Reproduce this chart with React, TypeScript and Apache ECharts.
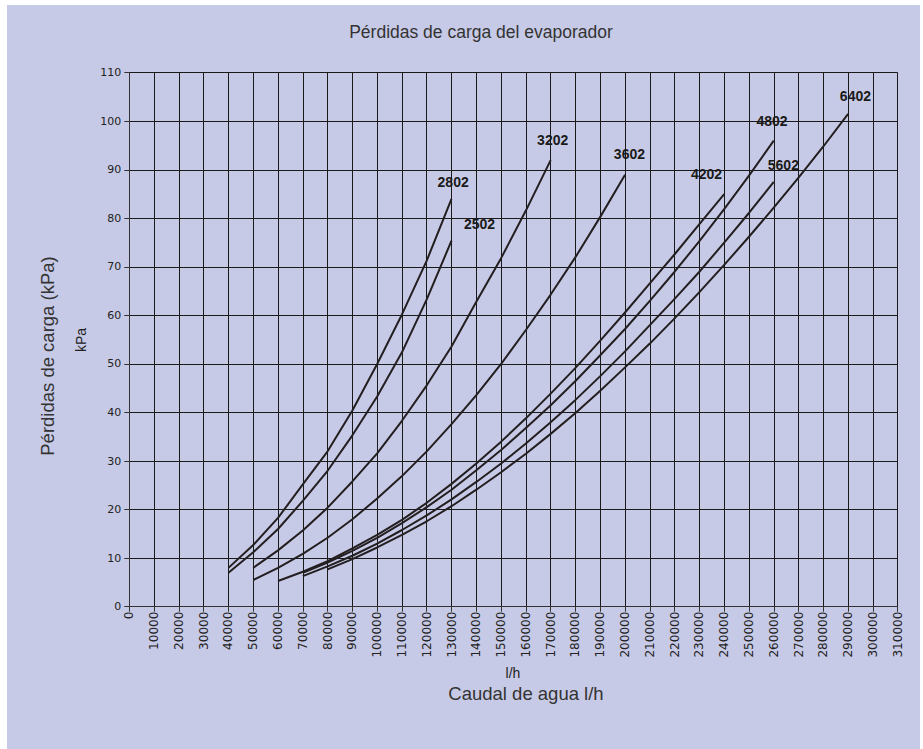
import React, { useEffect, useRef } from "react";
import * as echarts from "echarts";

// Water flow (l/h) at which the curves are sampled
const flows = [
  40000, 50000, 60000, 70000, 80000, 90000, 100000, 110000, 120000, 130000,
  140000, 150000, 160000, 170000, 180000, 190000, 200000, 210000, 220000,
  230000, 240000, 250000, 260000, 270000, 280000, 290000,
];

const models = ["2802", "2502", "3202", "3602", "4202", "4802", "5602", "6402"];
const startFlow = [40000, 40000, 50000, 50000, 60000, 70000, 70000, 80000];

// Pressure drop (kPa)
const dp2802 = [8, 12.7, 18.3, 25.2, 32, 40.4, 50, 60.2, 71.3, 84];
const dp2502 = [7, 11.2, 16, 21.8, 28, 35.3, 43.3, 52.4, 63.3, 75.4];
const dp3202 = [8, 11.6, 15.7, 20.4, 25.8, 31.6, 38.3, 45.6, 53.6, 62.8, 71.8, 81.6, 92];
const dp3602 = [5.5, 8, 10.9, 14.2, 18, 22.3, 26.9, 32, 37.6, 43.6, 50, 57, 64.3, 72, 80.3, 89];
const dp4202 = [5.3, 7.2, 9.4, 12, 14.8, 17.9, 21.4, 25.3, 29.5, 34, 38.8, 43.9, 49.2, 54.8, 60.6, 66.6, 72.6, 78.8, 85];
const dp4802 = [7, 9.1, 11.5, 14.2, 17.2, 20.5, 24.1, 28.1, 32.3, 36.8, 41.5, 46.5, 51.8, 57.2, 63, 69, 75.3, 81.9, 88.8, 96];
const dp5602 = [6.3, 8.3, 10.5, 13, 15.8, 18.8, 22.1, 25.7, 29.5, 33.6, 38, 42.6, 47.5, 52.6, 58, 63.4, 69, 75, 81.1, 87.5];
const dp6402 = [7.7, 9.8, 12.2, 14.8, 17.6, 20.7, 24.1, 27.7, 31.5, 35.6, 39.9, 44.5, 49.3, 54.2, 59.4, 64.8, 70.4, 76.2, 82.2, 88.4, 94.8, 101.5];

const seriesValues = [dp2802, dp2502, dp3202, dp3602, dp4202, dp4802, dp5602, dp6402];

const labelOffsets: number[][] = [
  [1.6, -5],
  [28, -5],
  [2, -8.5],
  [4.4, -9],
  [-17.6, -8.5],
  [-1.7, -8],
  [9.6, -5],
  [7.3, -5.5],
];

const title = "Pérdidas de carga del evaporador";
const yName = "Pérdidas de carga (kPa)";
const yUnit = "kPa";
const xName = "Caudal de agua l/h";
const xUnit = "l/h";

export default function App() {
  const ref = useRef<HTMLDivElement>(null);

  useEffect(() => {
    if (!ref.current) return;
    const chart = echarts.init(ref.current, undefined, { renderer: "svg" });

    const series = models.map((m, i) => {
      const s0 = flows.indexOf(startFlow[i]);
      const vals = seriesValues[i];
      const data = vals.map((v, j) =>
        j === vals.length - 1
          ? {
              value: [flows[s0 + j], v],
              label: {
                show: true,
                formatter: m,
                position: "top",
                distance: 5,
                offset: labelOffsets[i],
                fontFamily: "Liberation Sans, Arial, sans-serif",
                fontWeight: "bold",
                fontSize: 14,
                color: "#1a1a1a",
              },
            }
          : [flows[s0 + j], v]
      );
      return {
        type: "line",
        name: m,
        data,
        showSymbol: true,
        symbol: "circle",
        symbolSize: 0,
        smooth: false,
        silent: true,
        lineStyle: { color: "#231f20", width: 2, join: "round" },
        itemStyle: { color: "#231f20" },
        label: { show: false },
        z: 3,
      };
    });

    const tickFont = "DejaVu Sans, sans-serif";

    chart.setOption({
      animation: false,
      backgroundColor: "#c7cae6",
      grid: { left: 122.3, right: 22.3, top: 67.7, bottom: 142.3, containLabel: false },
      xAxis: {
        type: "value",
        min: 0,
        max: 310000,
        interval: 10000,
        axisLine: { show: true, lineStyle: { color: "#333", width: 1 } },
        axisTick: { show: true, length: 5, lineStyle: { color: "#333" } },
        splitLine: { show: true, lineStyle: { color: "#1a1a1a", width: 1 } },
        axisLabel: {
          rotate: 90,
          margin: 5,
          fontFamily: tickFont,
          fontSize: 12,
          color: "#222",
          showMinLabel: true,
          showMaxLabel: true,
          formatter: (v: number) => String(v),
        },
      },
      yAxis: {
        type: "value",
        min: 0,
        max: 110,
        interval: 10,
        axisLine: { show: true, lineStyle: { color: "#333", width: 1 } },
        axisTick: { show: true, length: 5, lineStyle: { color: "#333" } },
        splitLine: { show: true, lineStyle: { color: "#1a1a1a", width: 1 } },
        axisLabel: {
          margin: 8,
          fontFamily: tickFont,
          fontSize: 11,
          color: "#222",
          showMinLabel: true,
          showMaxLabel: true,
        },
      },
      graphic: [
        {
          type: "text",
          x: 474,
          y: 27,
          style: {
            text: title,
            fill: "#333",
            fontFamily: "Liberation Sans, Arial, sans-serif",
            fontSize: 17.5,
            align: "center",
            verticalAlign: "middle",
            textAlign: "center",
            textVerticalAlign: "middle",
          },
        },
        {
          type: "text",
          x: 40,
          y: 351,
          rotation: Math.PI / 2,
          style: {
            text: yName,
            fill: "#333",
            fontFamily: "Liberation Sans, Arial, sans-serif",
            fontSize: 18.5,
            align: "center",
            verticalAlign: "middle",
            textAlign: "center",
            textVerticalAlign: "middle",
          },
        },
        {
          type: "text",
          x: 74,
          y: 335,
          rotation: Math.PI / 2,
          style: {
            text: yUnit,
            fill: "#222",
            fontFamily: "Liberation Sans, Arial, sans-serif",
            fontSize: 14,
            align: "center",
            verticalAlign: "middle",
            textAlign: "center",
            textVerticalAlign: "middle",
          },
        },
        {
          type: "text",
          x: 506,
          y: 668,
          style: {
            text: xUnit,
            fill: "#222",
            fontFamily: "Liberation Sans, Arial, sans-serif",
            fontSize: 14,
            align: "center",
            verticalAlign: "middle",
            textAlign: "center",
            textVerticalAlign: "middle",
          },
        },
        {
          type: "text",
          x: 519,
          y: 688,
          style: {
            text: xName,
            fill: "#333",
            fontFamily: "Liberation Sans, Arial, sans-serif",
            fontSize: 18.5,
            align: "center",
            verticalAlign: "middle",
            textAlign: "center",
            textVerticalAlign: "middle",
          },
        },
      ],
      series,
    });

    return () => chart.dispose();
  }, []);

  return (
    <div
      style={{
        position: "fixed",
        left: 0,
        top: 0,
        width: 923,
        height: 749,
        background: "#ffffff",
      }}
    >
      <div
        ref={ref}
        style={{ position: "absolute", left: 7, top: 5, width: 913, height: 744 }}
      />
    </div>
  );
}
